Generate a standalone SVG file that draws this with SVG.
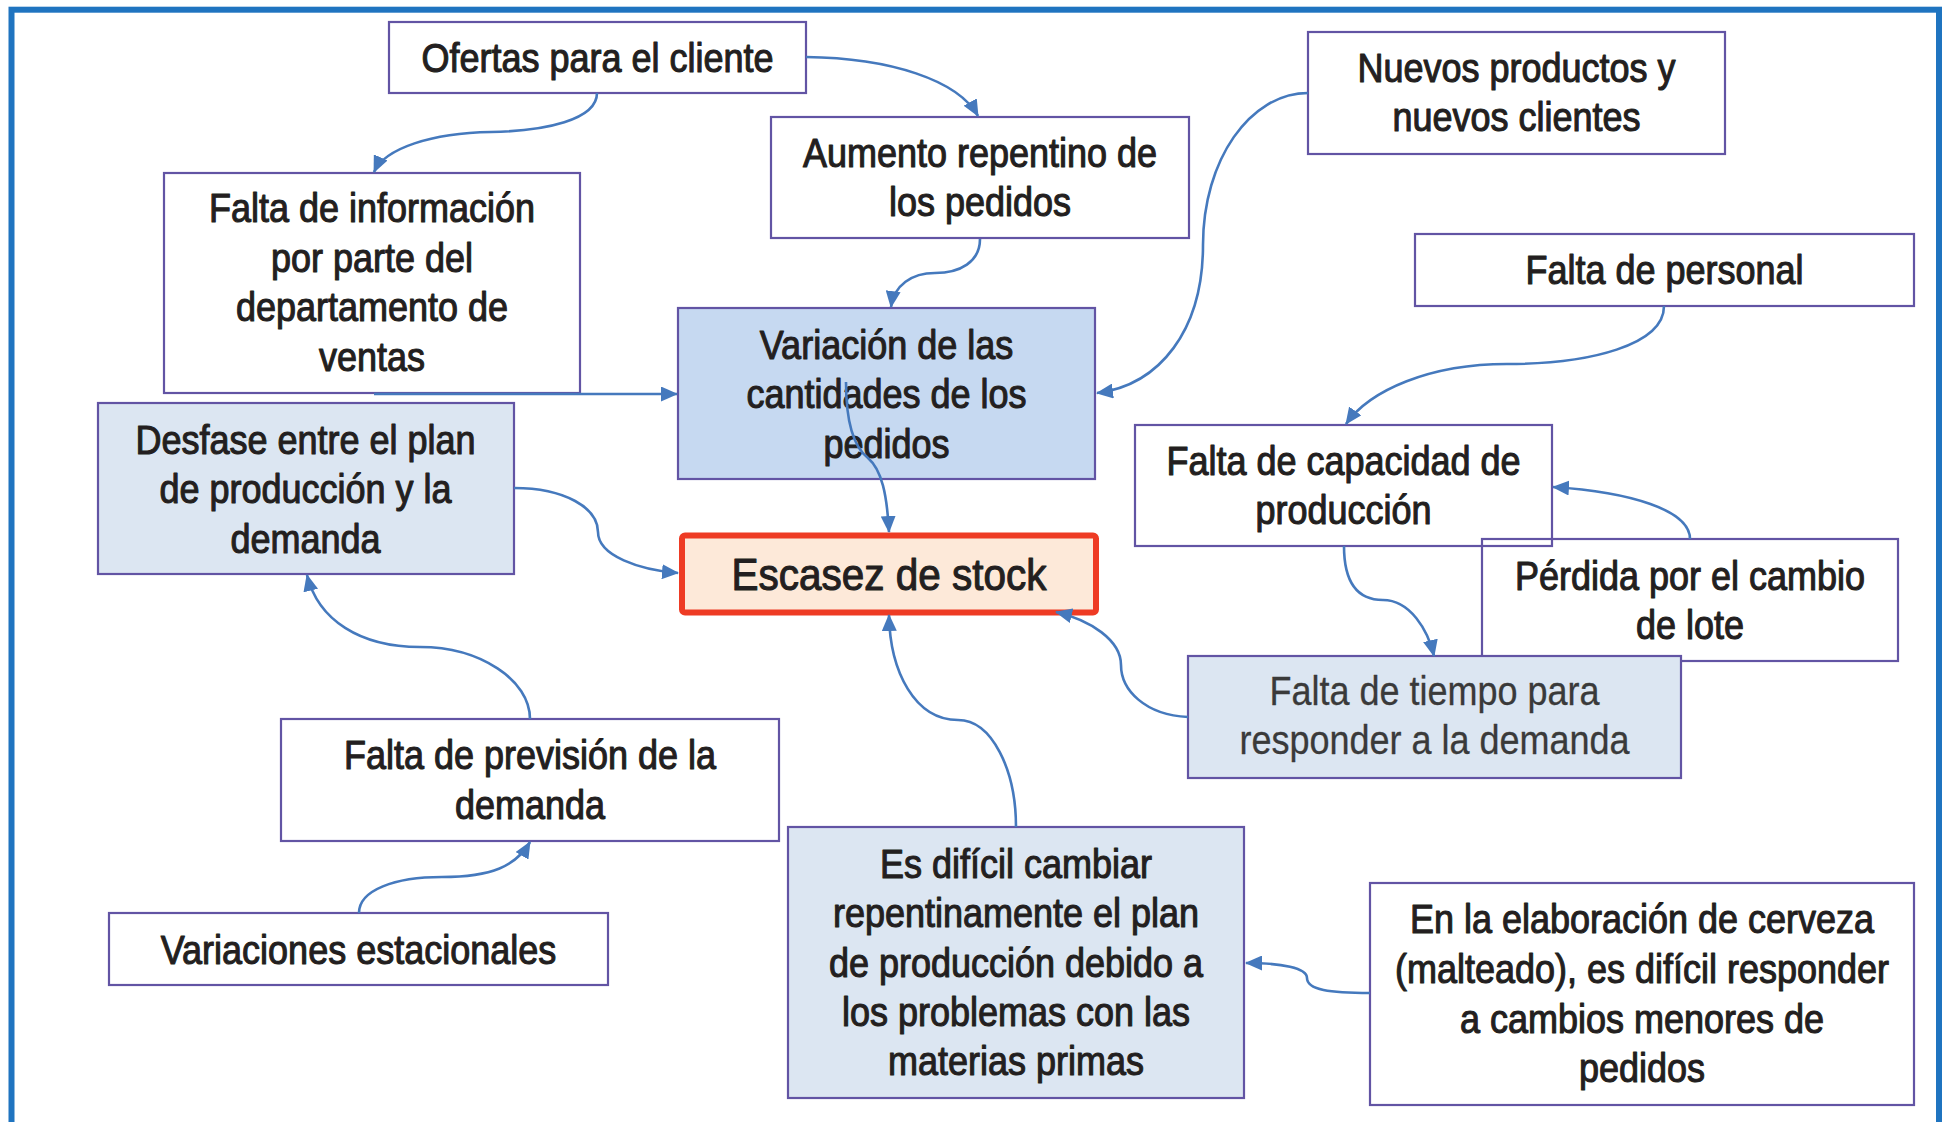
<svg xmlns="http://www.w3.org/2000/svg" width="1945" height="1122" viewBox="0 0 1945 1122">
<style>
.box{stroke:#6254A4;stroke-width:2.2}
.w{fill:#FFFFFF}
.lb{fill:#DCE6F2}
.mb{fill:#C6D9F1}
.t{font-family:"Liberation Sans",Arial,sans-serif;font-size:40px;fill:#231F20;stroke:#231F20;stroke-width:1.1;stroke-linejoin:round;text-anchor:middle}
.tl{fill:#3A3A3A;stroke:#3A3A3A;stroke-width:0.3}
.big{font-size:45px}
.c{fill:none;stroke:#4579BD;stroke-width:2.6;marker-end:url(#ah)}
</style>
<defs>
<marker id="ah" markerUnits="userSpaceOnUse" markerWidth="19" markerHeight="15" refX="16" refY="7.5" orient="auto">
<path d="M0,0 L17,7.5 L0,15 z" fill="#4579BD"/>
</marker>
</defs>
<rect x="0" y="0" width="1945" height="1122" fill="#FFFFFF"/>
<rect x="11.5" y="9.7" width="1927.5" height="1140" fill="none" stroke="#1F74C0" stroke-width="6"/>

<g id="ofertas">
<rect class="box w" x="389" y="22" width="417" height="71"/>
<text class="t" transform="translate(597.5 0) scale(0.9 1)"><tspan x="0" y="72">Ofertas para el cliente</tspan></text>
</g>
<g id="aumento">
<rect class="box w" x="771" y="117" width="418" height="121"/>
<text class="t" transform="translate(980 0) scale(0.9 1)"><tspan x="0" y="167">Aumento repentino de</tspan><tspan x="0" y="216.5">los pedidos</tspan></text>
</g>
<g id="nuevos">
<rect class="box w" x="1308" y="32" width="417" height="122"/>
<text class="t" transform="translate(1516.5 0) scale(0.9 1)"><tspan x="0" y="82">Nuevos productos y</tspan><tspan x="0" y="131.5">nuevos clientes</tspan></text>
</g>
<g id="personal">
<rect class="box w" x="1415" y="234" width="499" height="72"/>
<text class="t" transform="translate(1664.5 0) scale(0.9 1)"><tspan x="0" y="284.5">Falta de personal</tspan></text>
</g>
<g id="informacion">
<rect class="box w" x="164" y="173" width="416" height="220"/>
<text class="t" transform="translate(372 0) scale(0.9 1)"><tspan x="0" y="222.5">Falta de información</tspan><tspan x="0" y="272">por parte del</tspan><tspan x="0" y="321.5">departamento de</tspan><tspan x="0" y="371">ventas</tspan></text>
</g>
<g id="variacion">
<rect class="box mb" x="678" y="308" width="417" height="171"/>
<text class="t" transform="translate(886.5 0) scale(0.9 1)"><tspan x="0" y="359">Variación de las</tspan><tspan x="0" y="408.3">cantidades de los</tspan><tspan x="0" y="457.6">pedidos</tspan></text>
</g>
<g id="desfase">
<rect class="box lb" x="98" y="403" width="416" height="171"/>
<text class="t" transform="translate(305.5 0) scale(0.9 1)"><tspan x="0" y="454">Desfase entre el plan</tspan><tspan x="0" y="503.3">de producción y la</tspan><tspan x="0" y="552.6">demanda</tspan></text>
</g>
<g id="escasez">
<rect x="682" y="535.5" width="414" height="77" rx="3" fill="#FDE9D9" stroke="#EE3B24" stroke-width="6"/>
<text class="t big" transform="translate(889 0) scale(0.9 1)"><tspan x="0" y="590">Escasez de stock</tspan></text>
</g>
<g id="capacidad">
<rect class="box w" x="1135" y="425" width="417" height="121"/>
<text class="t" transform="translate(1343.5 0) scale(0.9 1)"><tspan x="0" y="475">Falta de capacidad de</tspan><tspan x="0" y="524.3">producción</tspan></text>
</g>
<g id="perdida">
<rect class="box" fill="none" x="1482" y="539" width="416" height="122"/>
<text class="t" transform="translate(1690 0) scale(0.9 1)"><tspan x="0" y="590">Pérdida por el cambio</tspan><tspan x="0" y="639.3">de lote</tspan></text>
</g>
<g id="tiempo">
<rect class="box lb" x="1188" y="656" width="493" height="122"/>
<text class="t tl" transform="translate(1434.5 0) scale(0.9 1)"><tspan x="0" y="705">Falta de tiempo para</tspan><tspan x="0" y="754.5">responder a la demanda</tspan></text>
</g>
<g id="prevision">
<rect class="box w" x="281" y="719" width="498" height="122"/>
<text class="t" transform="translate(530 0) scale(0.9 1)"><tspan x="0" y="769.3">Falta de previsión de la</tspan><tspan x="0" y="818.6">demanda</tspan></text>
</g>
<g id="estacionales">
<rect class="box w" x="109" y="913" width="499" height="72"/>
<text class="t" transform="translate(358.5 0) scale(0.9 1)"><tspan x="0" y="964">Variaciones estacionales</tspan></text>
</g>
<g id="dificil">
<rect class="box lb" x="788" y="827" width="456" height="271"/>
<text class="t" transform="translate(1016 0) scale(0.9 1)"><tspan x="0" y="878">Es difícil cambiar</tspan><tspan x="0" y="927.3">repentinamente el plan</tspan><tspan x="0" y="976.6">de producción debido a</tspan><tspan x="0" y="1025.9">los problemas con las</tspan><tspan x="0" y="1075.2">materias primas</tspan></text>
</g>
<g id="cerveza">
<rect class="box w" x="1370" y="883" width="544" height="222"/>
<text class="t" transform="translate(1642 0) scale(0.9 1)"><tspan x="0" y="933.3">En la elaboración de cerveza</tspan><tspan x="0" y="983">(malteado), es difícil responder</tspan><tspan x="0" y="1032.7">a cambios menores de</tspan><tspan x="0" y="1082">pedidos</tspan></text>
</g>

<g id="connectors">
<path class="c" d="M597,93 C597,120 545,131 491,132 C432,133 385,148 374,172"/>
<path class="c" d="M806,57 C890,58 958,80 978,116"/>
<path class="c" d="M980,239 C980,262 960,273 935,273 C912,273 894,285 891,307"/>
<path class="c" d="M1308,93 C1250,93 1203,160 1203,245 C1203,330 1160,385 1097,393"/>
<path class="c" d="M374,394 L677,394"/>
<path class="c" d="M846,382 C846,425 855,448 868,458 C882,470 887,495 889,532"/>
<path class="c" d="M514,488 C565,488 598,508 598,532 C598,556 640,570 678,573"/>
<path class="c" d="M530,719 C530,680 480,647 420,647 C360,647 318,620 307,575"/>
<path class="c" d="M359,913 C359,890 395,877 442,877 C492,877 516,866 530,842"/>
<path class="c" d="M1016,827 C1016,770 992,720 958,720 C915,720 890,672 889,615"/>
<path class="c" d="M1188,717 C1145,715 1121,690 1121,665 C1121,640 1090,620 1056,612"/>
<path class="c" d="M1664,306 C1664,345 1590,364 1507,364 C1430,364 1370,390 1346,424"/>
<path class="c" d="M1690,539 C1690,510 1630,492 1553,487"/>
<path class="c" d="M1344,546 C1344,580 1355,600 1383,600 C1410,600 1428,630 1434,656"/>
<path class="c" d="M1370,993 C1330,993 1307,990 1307,978 C1307,968 1282,963 1246,963"/>
</g>
</svg>
